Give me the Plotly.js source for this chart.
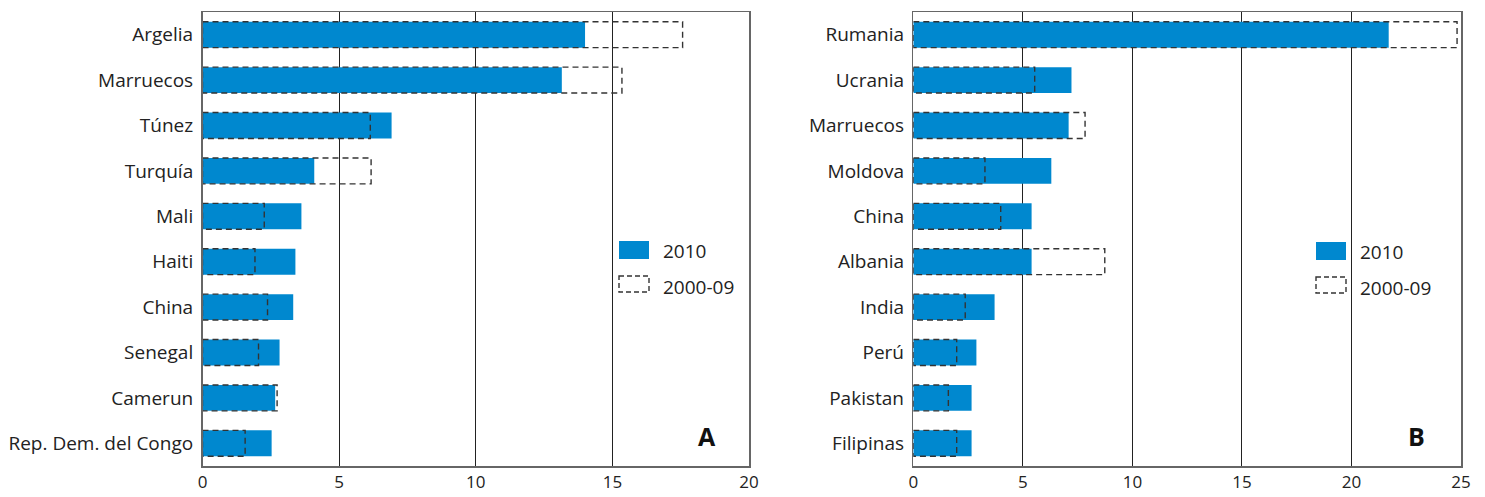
<!DOCTYPE html>
<html>
<head>
<meta charset="utf-8">
<script src="https://cdn.plot.ly/plotly-3.0.1.min.js"></script>
<style>html,body{margin:0;padding:0;background:#fff;}#chart{width:1485px;height:497px;}</style>
</head>
<body>
<div id="chart"></div>
<script>
const catsA = ["Argelia","Marruecos","Túnez","Turquía","Mali","Haiti","China","Senegal","Camerun","Rep. Dem. del Congo"];
const val2010A = [14.0, 13.15, 6.92, 4.09, 3.62, 3.40, 3.32, 2.82, 2.66, 2.53];
const val0009A = [17.57, 15.35, 6.14, 6.17, 2.26, 1.92, 2.38, 2.05, 2.73, 1.56];

const catsB = ["Rumania","Ucrania","Marruecos","Moldova","China","Albania","India","Perú","Pakistan","Filipinas"];
const val2010B = [21.70, 7.22, 7.09, 6.30, 5.40, 5.40, 3.71, 2.88, 2.66, 2.66];
const val0009B = [24.82, 5.54, 7.84, 3.27, 3.99, 8.74, 2.37, 1.98, 1.60, 1.98];

const ticksA = [0, 5, 10, 15, 20];
const ticksB = [0, 5, 10, 15, 20, 25];
const seriesNames = ["2010", "2000-09"];
const panelLabels = ["A", "B"];

const W = 1485, H = 497, MT = 12, MB = 31;
const PH = H - MT - MB;
const BLUE = "#0088cf";
const FONT = "Open Sans, Lato, sans-serif";
const HALF = 0.285;

const px = v => v / W;
const py = v => (H - MB - v) / PH;

function rectTrace(vals, xa, ya) {
  const xs = [], ys = [];
  vals.forEach((v, i) => {
    xs.push(0, v, v, 0, 0, null);
    ys.push(i - HALF, i - HALF, i + HALF, i + HALF, i - HALF, null);
  });
  return {type: "scatter", mode: "lines", x: xs, y: ys, xaxis: xa, yaxis: ya,
    line: {color: "#333", width: 1.4, dash: "6px,4px"}, hoverinfo: "skip", showlegend: false, name: seriesNames[1]};
}
function barTrace(vals, xa, ya) {
  return {type: "bar", orientation: "h", x: vals, y: vals.map((v, i) => i), xaxis: xa, yaxis: ya,
    width: 2 * HALF, marker: {color: BLUE, line: {width: 0}}, showlegend: false, name: seriesNames[0]};
}

const data = [
  barTrace(val2010A, "x", "y"), rectTrace(val0009A, "x", "y"),
  barTrace(val2010B, "x2", "y2"), rectTrace(val0009B, "x2", "y2")
];

function xaxisCfg(ticks, domain, anchor) {
  return {domain: domain, anchor: anchor, range: [0, ticks[ticks.length - 1]], tickvals: ticks,
    ticktext: ticks.map(String), showgrid: true, gridcolor: "#222", gridwidth: 1, zeroline: false,
    showline: true, linecolor: "#666", linewidth: 1.5, mirror: true, ticks: "", ticklabelstandoff: 0,
    tickfont: {family: FONT, size: 17, color: "#222"}, fixedrange: true};
}
function yaxisCfg(cats, anchor) {
  return {anchor: anchor, range: [cats.length - 0.5, -0.5], tickvals: cats.map((c, i) => i), ticktext: cats,
    showgrid: false, zeroline: false, showline: true, linecolor: "#666", linewidth: 1.5, mirror: true,
    ticks: "", ticklabelstandoff: 4, tickfont: {family: FONT, size: 19, color: "#222"}, fixedrange: true};
}

function legendShapes(x0, blueTop, dashTop) {
  return [
    {type: "rect", xref: "paper", yref: "paper", x0: px(x0), x1: px(x0 + 30), y0: py(blueTop), y1: py(blueTop + 18),
      fillcolor: BLUE, line: {width: 0}},
    {type: "rect", xref: "paper", yref: "paper", x0: px(x0), x1: px(x0 + 30), y0: py(dashTop), y1: py(dashTop + 16),
      fillcolor: "rgba(0,0,0,0)", line: {color: "#333", width: 1.4, dash: "5px,3px"}}
  ];
}
function legendAnns(tx, c1, c2) {
  return [
    {xref: "paper", yref: "paper", x: px(tx), y: py(c1), xanchor: "left", yanchor: "middle",
      text: seriesNames[0], showarrow: false, font: {family: FONT, size: 19, color: "#222"}},
    {xref: "paper", yref: "paper", x: px(tx), y: py(c2), xanchor: "left", yanchor: "middle",
      text: seriesNames[1], showarrow: false, font: {family: FONT, size: 19, color: "#222"}}
  ];
}

const layout = {
  width: W, height: H,
  margin: {l: 0, r: 0, t: MT, b: MB},
  paper_bgcolor: "#fff", plot_bgcolor: "#fff",
  showlegend: false, barmode: "overlay",
  xaxis: xaxisCfg(ticksA, [px(202.5), px(749)], "y"),
  yaxis: yaxisCfg(catsA, "x"),
  xaxis2: xaxisCfg(ticksB, [px(913.3), px(1461)], "y2"),
  yaxis2: yaxisCfg(catsB, "x2"),
  shapes: [].concat(legendShapes(619, 241, 276), legendShapes(1316, 242, 277)),
  annotations: [].concat(legendAnns(661, 251, 287), legendAnns(1358, 252, 288), [
    {xref: "paper", yref: "paper", x: px(707), y: py(436), xanchor: "center", yanchor: "middle",
      text: "<b>" + panelLabels[0] + "</b>", showarrow: false, font: {family: FONT, size: 25, color: "#111"}},
    {xref: "paper", yref: "paper", x: px(1416), y: py(436), xanchor: "center", yanchor: "middle",
      text: "<b>" + panelLabels[1] + "</b>", showarrow: false, font: {family: FONT, size: 25, color: "#111"}}
  ])
};

Plotly.newPlot("chart", data, layout, {displayModeBar: false, staticPlot: true});
</script>
</body>
</html>
